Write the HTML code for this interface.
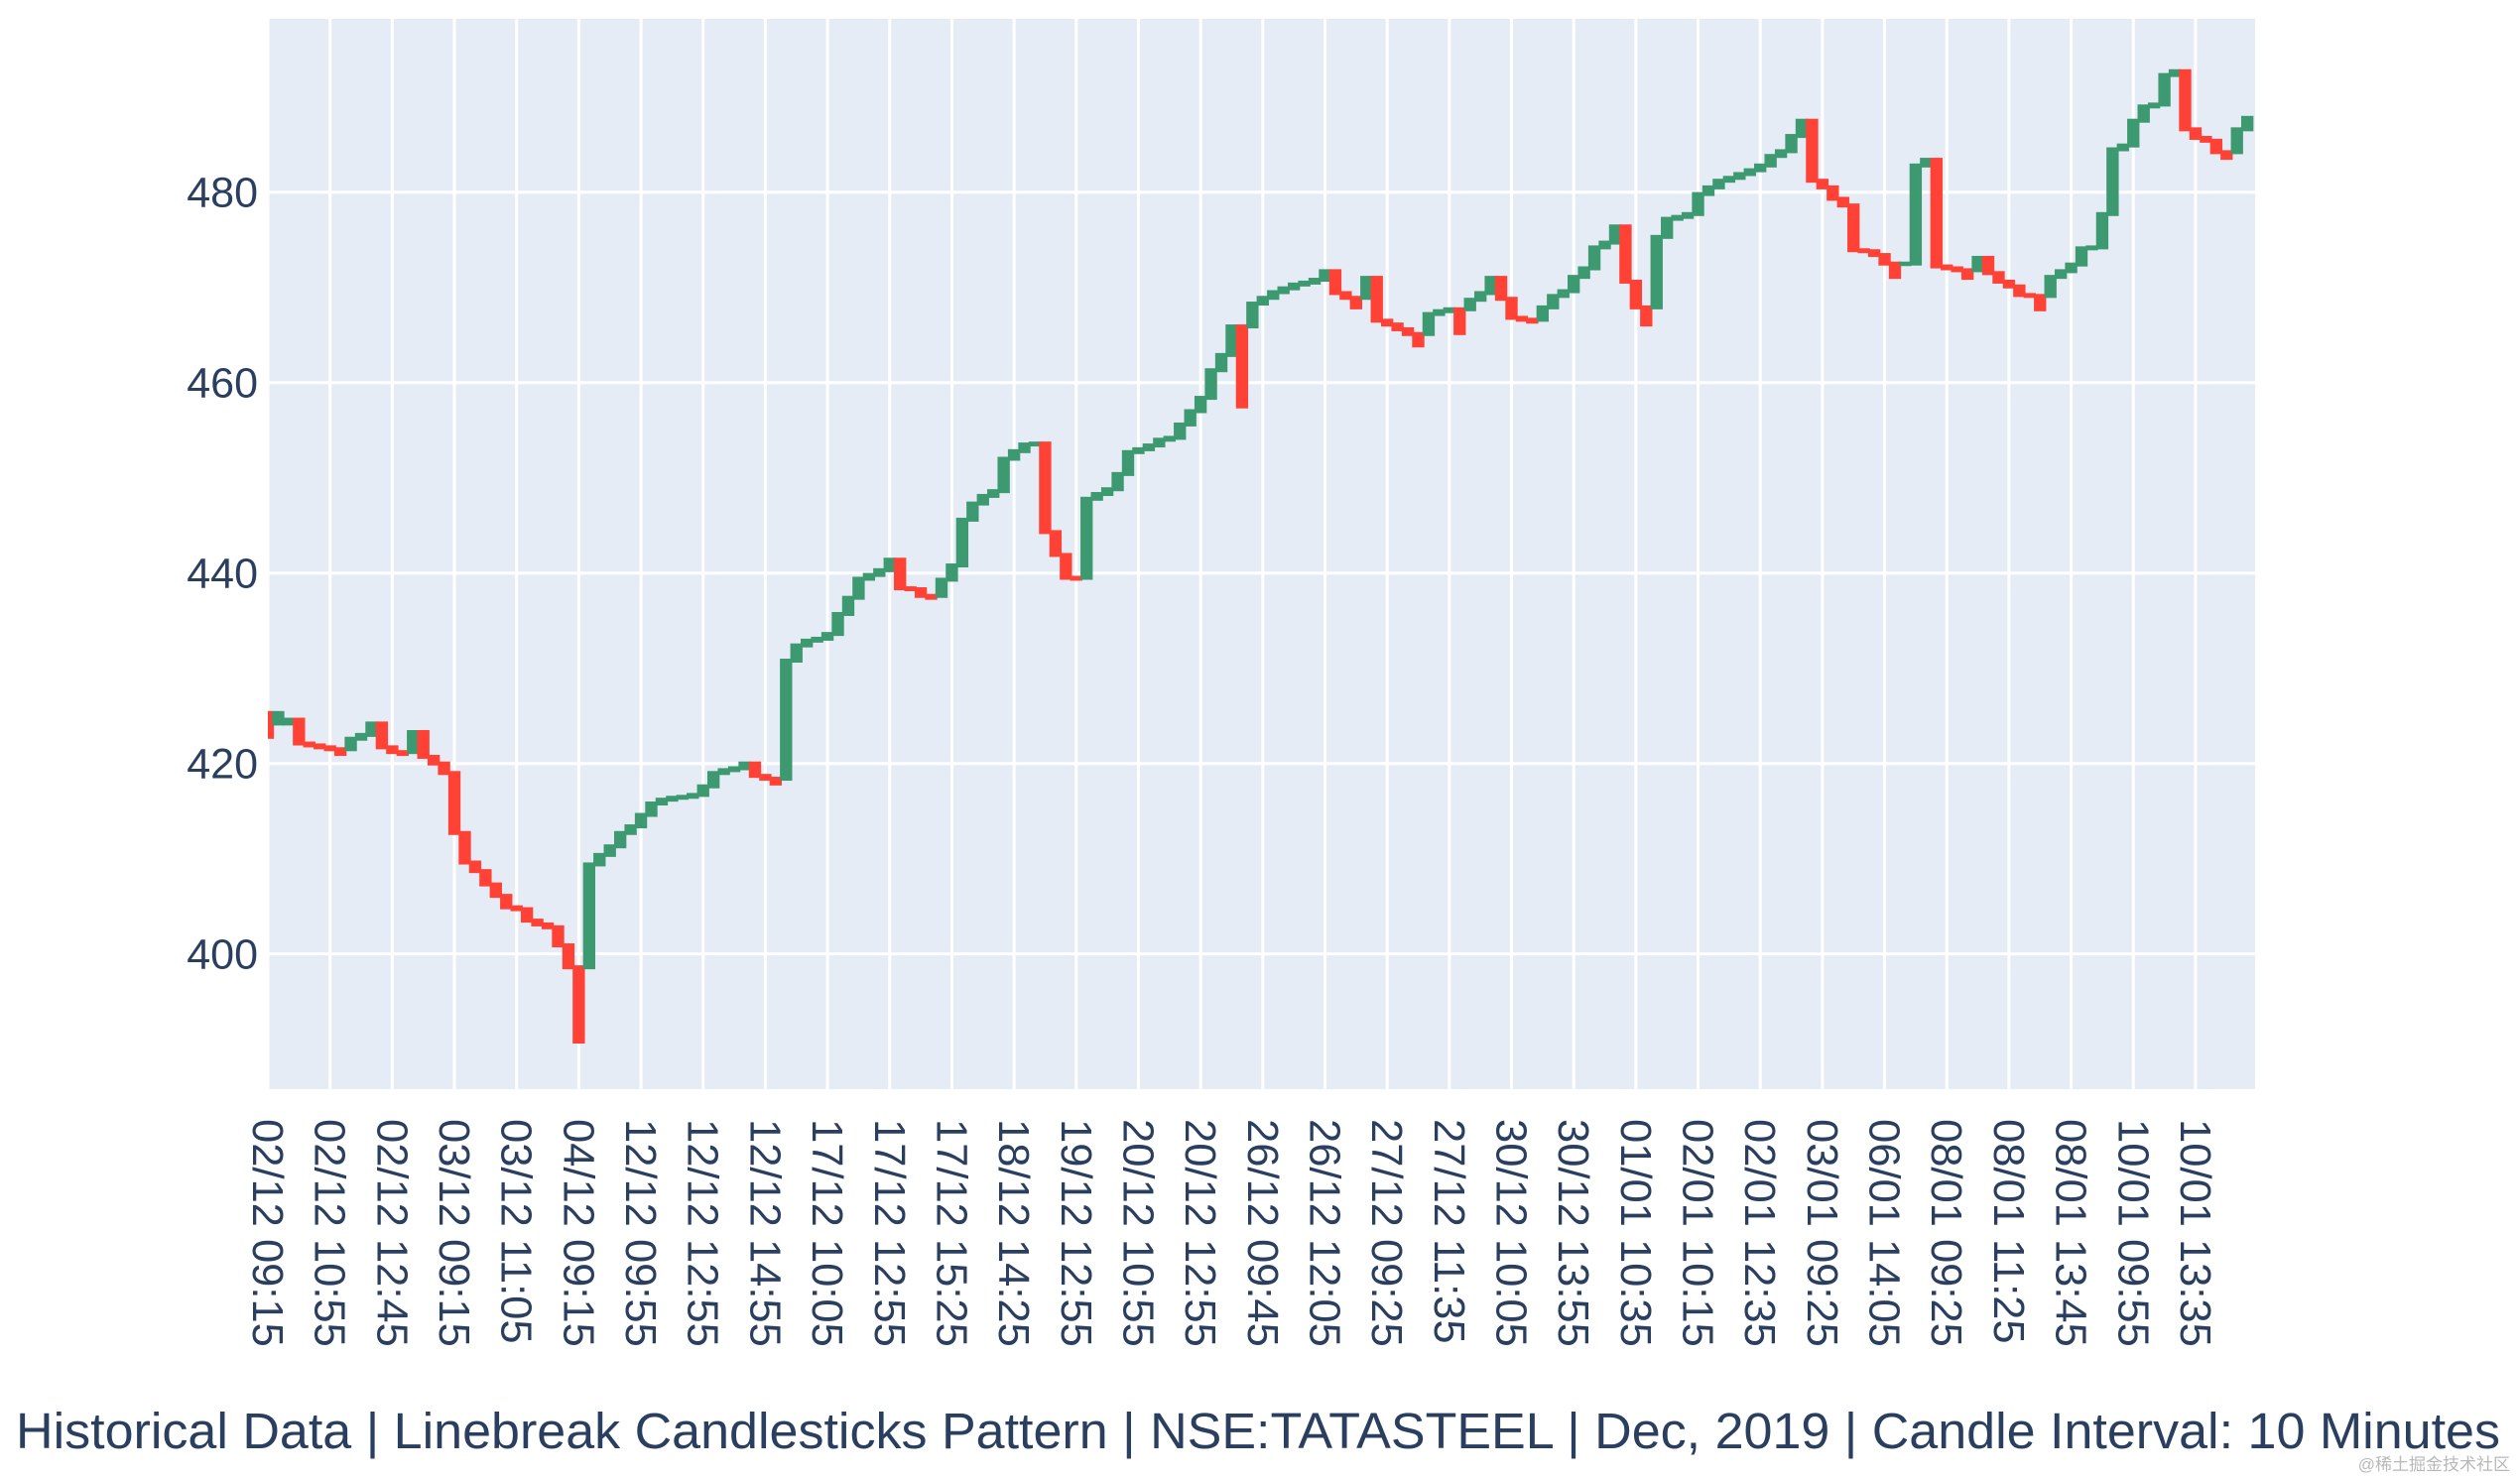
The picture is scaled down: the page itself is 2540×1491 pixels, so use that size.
<!DOCTYPE html>
<html><head><meta charset="utf-8"><style>
html,body{margin:0;padding:0;background:#fff;}
svg{display:block;}
</style></head><body>
<svg id="chart" width="2540" height="1491" xmlns="http://www.w3.org/2000/svg">
<rect x="270" y="19" width="2003" height="1079" fill="#E5ECF6"/>
<g id="grid"></g>
<g id="candles"></g>
<g id="yticks"></g>
<g id="xticks"></g>
<text x="16" y="1460" font-family="Liberation Sans, sans-serif" font-size="51" fill="#2a3f5f" textLength="2504" lengthAdjust="spacingAndGlyphs">Historical Data | Linebreak Candlesticks Pattern | NSE:TATASTEEL | Dec, 2019 | Candle Interval: 10 Minutes</text>
<text x="2530" y="1482" text-anchor="end" font-family="Liberation Sans, Noto Sans CJK SC, sans-serif" font-size="17" fill="#b8b8b8">@稀土掘金技术社区</text>
</svg>
<script>
const closes = [422.8,424.2,424.6,422.1,421.9,421.7,421.5,421.0,422.6,423.0,
424.2,421.7,421.2,421.0,423.3,420.7,420.0,419.0,412.7,409.6,
408.7,407.3,406.1,404.9,404.7,403.5,403.1,402.8,400.9,398.6,
390.8,409.4,410.4,411.3,412.7,413.4,414.6,415.8,416.2,416.4,
416.5,416.7,417.6,419.0,419.3,419.5,420.0,418.7,418.4,417.9,
430.8,432.4,432.9,433.1,433.6,435.7,437.4,439.4,439.8,440.3,
441.4,438.4,438.3,437.6,437.4,439.3,440.8,445.6,447.3,448.1,
448.6,452.0,452.8,453.5,453.6,444.3,441.9,439.5,439.4,447.8,
448.3,448.8,450.4,452.7,453.0,453.4,454.0,454.2,455.6,457.0,
458.4,461.3,462.9,465.9,457.5,468.3,468.9,469.5,469.9,470.3,
470.5,470.8,471.7,469.4,468.9,467.9,471.0,466.5,466.1,465.6,
465.1,463.9,467.2,467.5,467.7,465.2,468.7,469.4,471.0,468.8,
466.8,466.6,466.4,467.9,469.1,469.6,471.1,472.0,474.2,474.7,
476.4,470.6,467.9,466.1,475.3,477.2,477.4,477.7,479.8,480.5,
481.2,481.5,481.9,482.3,482.8,483.8,484.3,485.9,487.5,481.2,
480.5,479.3,478.6,473.9,473.8,473.4,472.5,471.1,472.5,482.8,
483.4,472.2,472.0,471.8,471.0,473.1,471.5,470.6,470.1,469.2,
469.1,467.7,471.1,471.7,472.4,474.1,474.2,477.7,484.5,484.9,
487.5,489.0,489.2,492.3,492.7,486.6,485.7,485.4,484.2,483.6,
486.6,487.8];
const firstOpen = 425.3;
const xTickLabels = ["02/12 09:15","02/12 10:55","02/12 12:45","03/12 09:15","03/12 11:05","04/12 09:15","12/12 09:55","12/12 12:55","12/12 14:55","17/12 10:05","17/12 12:55","17/12 15:25","18/12 14:25","19/12 12:55","20/12 10:55","20/12 12:55","26/12 09:45","26/12 12:05","27/12 09:25","27/12 11:35","30/12 10:05","30/12 13:55","01/01 10:35","02/01 10:15","02/01 12:35","03/01 09:25","06/01 14:05","08/01 09:25","08/01 11:25","08/01 13:45","10/01 09:55","10/01 13:35"];
const yTickValues = [400,420,440,460,480];

const NS="http://www.w3.org/2000/svg";
const PL=270, PR=2273, PT=19, PB=1098;
const xMin=0, xMax=191.75, yMin=385.8, yMax=498.2;
const xs = i => PL + (i - xMin) / (xMax - xMin) * (PR - PL);
const ys = v => PB - (v - yMin) / (yMax - yMin) * (PB - PT);
const step = (PR-PL)/(xMax-xMin);
function mk(tag, attrs, parent){const e=document.createElementNS(NS,tag);for(const k in attrs)e.setAttribute(k,attrs[k]);parent.appendChild(e);return e;}

const grid=document.getElementById('grid');
yTickValues.forEach(v=>{
  const l=mk('line',{x1:PL,x2:PR,y1:ys(v),y2:ys(v),stroke:'#fff','stroke-width':3},grid);
  
  
});
xTickLabels.forEach((t,k)=>{
  const x=xs(k*6);
  const l=mk('line',{x1:x,x2:x,y1:PT,y2:PB,stroke:'#fff','stroke-width':3},grid);
  
  
});

// candles
const cg=document.getElementById('candles');
const clip=mk('clipPath',{id:'pc'},document.getElementById('chart'));
mk('rect',{x:PL,y:PT,width:PR-PL,height:PB-PT},clip);
cg.setAttribute('clip-path','url(#pc)');
let opens=[], dirs=[];
for(let i=0;i<closes.length;i++){
  let o,d;
  if(i===0){o=firstOpen;d=closes[0]>=o?1:-1;}
  else{
    d=closes[i]>=closes[i-1]?1:-1;
    if(d===dirs[i-1]) o=closes[i-1];
    else if(d===1) o=opens[i-1];
    else o=closes[i-1];
  }
  opens.push(o);dirs.push(d);
  const top=ys(Math.max(o,closes[i])), bot=ys(Math.min(o,closes[i]));
  const col=d===1?'#3D9970':'#FF4136';
  const w=step*0.8;
  const r=mk('rect',{x:xs(i)-w/2,y:top,width:w,height:Math.max(bot-top,0.5),fill:col,stroke:col,'stroke-width':4,'stroke-linejoin':'miter'},cg);
  
  
}

const yt=document.getElementById('yticks');
yTickValues.forEach(v=>{
  const t=mk('text',{x:260,y:ys(v)+15,'text-anchor':'end','font-family':'Liberation Sans, sans-serif','font-size':43,fill:'#2a3f5f'},yt);
  t.textContent=v;
  
  
});
const xt=document.getElementById('xticks');
xTickLabels.forEach((s,k)=>{
  const x=xs(k*6);
  const t=mk('text',{x:0,y:0,transform:`translate(${x-15},1128) rotate(90)`,'font-family':'Liberation Sans, sans-serif','font-size':43.5,fill:'#2a3f5f'},xt);
  t.textContent=s;
  
  
});
</script>
</body></html>
